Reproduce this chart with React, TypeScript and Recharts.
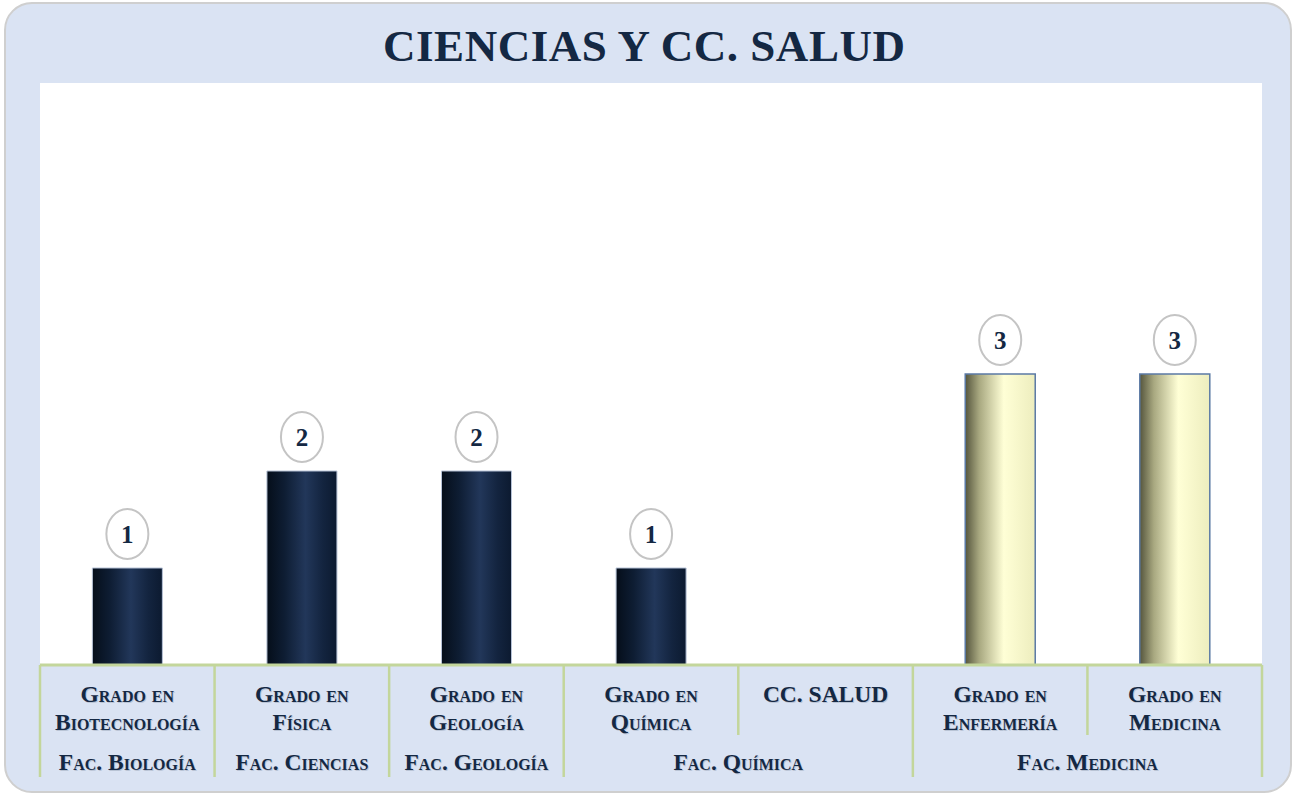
import { BarChart, Bar, XAxis, YAxis, CartesianGrid, LabelList, Cell } from "recharts"

const TITULO = "CIENCIAS Y CC. SALUD"

// categorias (dos lineas por grado)
const GRADOS = [
  ["Grado en", "Biotecnología"],
  ["Grado en", "Física"],
  ["Grado en", "Geología"],
  ["Grado en", "Química"],
  ["CC. SALUD"],
  ["Grado en", "Enfermería"],
  ["Grado en", "Medicina"],
]
const FACULTADES = [
  "Fac. Biología",
  "Fac. Ciencias",
  "Fac. Geología",
  "Fac. Química",
  "Fac. Química",
  "Fac. Medicina",
  "Fac. Medicina",
]
const RAMA = ["ciencias", "ciencias", "ciencias", "ciencias", "salud", "salud", "salud"]
const VALORES: (number | null)[] = [1, 2, 2, 1, null, 3, 3]

const W = 1293
const H = 794
const INK = "#142843"
const SERIF = "'Liberation Serif', 'DejaVu Serif', serif"
const GREEN = "#c3d69b"

const data = GRADOS.map((g, i) => ({
  name: g.join(" "),
  value: VALORES[i],
  rama: RAMA[i],
}))

const tickText = {
  fontFamily: SERIF,
  fontWeight: 700,
  fontSize: 23.5,
  fontVariant: "small-caps" as const,
  fill: INK,
}
const shadowText = { ...tickText, fill: "#9aa6b8", opacity: 0.5 }

function Tick(props: any) {
  const { x, y, payload } = props
  const i: number = payload.index
  const half: number = payload.offset || (1222 / GRADOS.length) / 2
  const left = x - half
  const right = x + half
  const lines = GRADOS[i]
  const fac = FACULTADES[i]
  const firstOfGroup = i === 0 || FACULTADES[i - 1] !== fac
  let span = 1
  while (i + span < FACULTADES.length && FACULTADES[i + span] === fac) span++
  const lastOfGroup = i === FACULTADES.length - 1 || FACULTADES[i + 1] !== fac
  const gx = left + span * half
  return (
    <g>
      {i === 0 && <line x1={left} x2={left} y1={y} y2={y + 112} stroke={GREEN} strokeWidth={2.5} />}
      <line
        x1={right}
        x2={right}
        y1={y}
        y2={y + (lastOfGroup ? 112 : 70)}
        stroke={GREEN}
        strokeWidth={2.5}
      />
      {lines.map((t, k) => (
        <g key={k}>
          <text x={x + 1} y={y + 38 + k * 28} textAnchor="middle" style={shadowText}>
            {t}
          </text>
          <text x={x} y={y + 37 + k * 28} textAnchor="middle" style={tickText}>
            {t}
          </text>
        </g>
      ))}
      {firstOfGroup && (
        <g>
          <text x={gx + 1} y={y + 106} textAnchor="middle" style={shadowText}>
            {fac}
          </text>
          <text x={gx} y={y + 105} textAnchor="middle" style={tickText}>
            {fac}
          </text>
        </g>
      )}
    </g>
  )
}

function Burbuja(props: any) {
  const { x, y, width, value } = props
  if (value == null || value === 0) return null
  const cx = x + width / 2
  const cy = y - 34
  return (
    <g>
      <ellipse cx={cx} cy={cy} rx={21} ry={25} fill="#fff" stroke="#c4c4c4" strokeWidth={2} />
      <text
        x={cx}
        y={cy + 8.5}
        textAnchor="middle"
        style={{ fontFamily: SERIF, fontWeight: 700, fontSize: 25, fill: INK }}
      >
        {value}
      </text>
    </g>
  )
}

export default function App() {
  return (
    <div style={{ position: "absolute", left: 0, top: 0, width: W, height: H, background: "#fff" }}>
      <div
        style={{
          position: "absolute",
          left: 4,
          top: 2,
          width: 1284,
          height: 787,
          background: "#dae3f3",
          border: "2px solid #cfcfcf",
          borderRadius: 28,
        }}
      />
      <svg width={W} height={H} style={{ position: "absolute", left: 0, top: 0 }}>
        <text
          x={644}
          y={61}
          textAnchor="middle"
          textLength={522}
          lengthAdjust="spacing"
          style={{ fontFamily: SERIF, fontWeight: 700, fontSize: 45, fill: INK }}
        >
          {TITULO}
        </text>
      </svg>
      <div style={{ position: "absolute", left: 0, top: 0 }}>
        <BarChart
          width={W}
          height={H}
          data={data}
          margin={{ top: 83, right: 31, bottom: 9, left: 40 }}
          barCategoryGap="30%"
        >
          <defs>
            <linearGradient id="gNavy" x1="0" y1="0" x2="1" y2="0">
              <stop offset="0%" stopColor="#050e1a" />
              <stop offset="25%" stopColor="#0e1d33" />
              <stop offset="55%" stopColor="#22375a" />
              <stop offset="80%" stopColor="#13243f" />
              <stop offset="100%" stopColor="#0c1a30" />
            </linearGradient>
            <linearGradient id="gAmarillo" x1="0" y1="0" x2="1" y2="0">
              <stop offset="0%" stopColor="#55553d" />
              <stop offset="20%" stopColor="#a8a880" />
              <stop offset="55%" stopColor="#ffffd6" />
              <stop offset="100%" stopColor="#ededbe" />
            </linearGradient>
          </defs>
          <CartesianGrid fill="#ffffff" horizontal={false} vertical={false} />
          <YAxis hide domain={[0, 6]} />
          <XAxis
            dataKey="name"
            interval={0}
            height={120}
            tickLine={false}
            tickSize={0}
            tickMargin={0}
            axisLine={{ stroke: GREEN, strokeWidth: 3 }}
            tick={<Tick />}
          />
          <Bar dataKey="value" isAnimationActive={false}>
            {data.map((d, i) => (
              <Cell
                key={i}
                fill={d.rama === "salud" ? "url(#gAmarillo)" : "url(#gNavy)"}
                stroke={d.rama === "salud" ? "#5b7aa5" : "#b6c2d6"}
                strokeWidth={d.rama === "salud" ? 1.5 : 1}
              />
            ))}
            <LabelList dataKey="value" content={<Burbuja />} />
          </Bar>
        </BarChart>
      </div>
    </div>
  )
}
